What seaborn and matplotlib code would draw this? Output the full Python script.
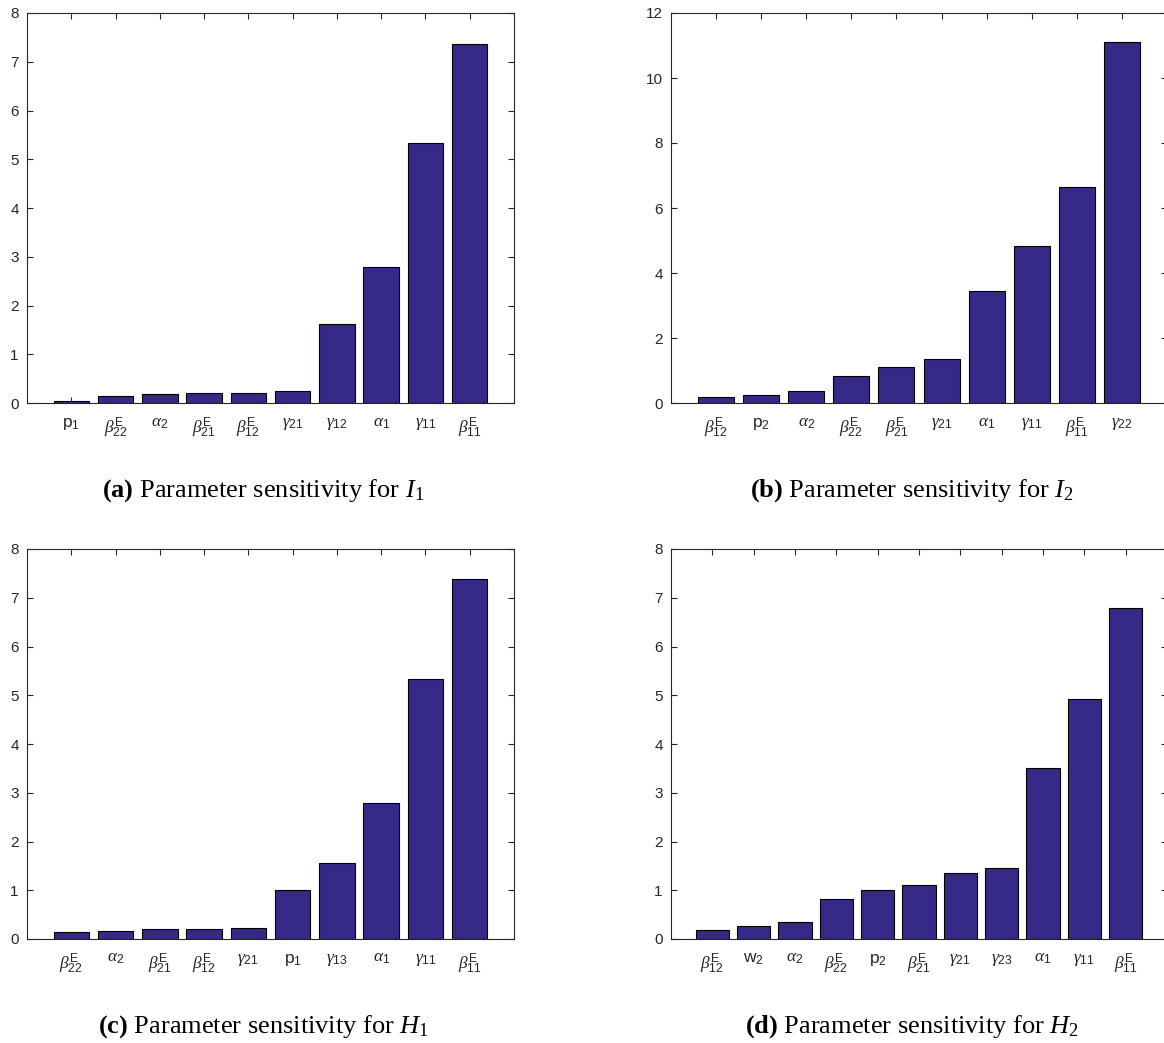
import matplotlib
matplotlib.use("Agg")
import matplotlib.pyplot as plt
import seaborn as sns
import pandas as pd

# Sensitivity indices for each output, sorted ascending
labels_I1 = [r"$\mathrm{p}_{1}$", r"$\beta^{\mathrm{E}}_{22}$", r"$\alpha_{2}$",
             r"$\beta^{\mathrm{E}}_{21}$", r"$\beta^{\mathrm{E}}_{12}$", r"$\gamma_{21}$",
             r"$\gamma_{12}$", r"$\alpha_{1}$", r"$\gamma_{11}$", r"$\beta^{\mathrm{E}}_{11}$"]
values_I1 = [0.034, 0.15, 0.18, 0.205, 0.205, 0.246, 1.627, 2.80, 5.33, 7.37]

labels_I2 = [r"$\beta^{\mathrm{E}}_{12}$", r"$\mathrm{p}_{2}$", r"$\alpha_{2}$",
             r"$\beta^{\mathrm{E}}_{22}$", r"$\beta^{\mathrm{E}}_{21}$", r"$\gamma_{21}$",
             r"$\alpha_{1}$", r"$\gamma_{11}$", r"$\beta^{\mathrm{E}}_{11}$", r"$\gamma_{22}$"]
values_I2 = [0.195, 0.236, 0.37, 0.83, 1.11, 1.35, 3.45, 4.84, 6.64, 11.12]

labels_H1 = [r"$\beta^{\mathrm{E}}_{22}$", r"$\alpha_{2}$", r"$\beta^{\mathrm{E}}_{21}$",
             r"$\beta^{\mathrm{E}}_{12}$", r"$\gamma_{21}$", r"$\mathrm{p}_{1}$",
             r"$\gamma_{13}$", r"$\alpha_{1}$", r"$\gamma_{11}$", r"$\beta^{\mathrm{E}}_{11}$"]
values_H1 = [0.137, 0.164, 0.198, 0.205, 0.232, 1.0, 1.566, 2.797, 5.333, 7.385]

labels_H2 = [r"$\beta^{\mathrm{E}}_{12}$", r"$\mathrm{w}_{2}$", r"$\alpha_{2}$",
             r"$\beta^{\mathrm{E}}_{22}$", r"$\mathrm{p}_{2}$", r"$\beta^{\mathrm{E}}_{21}$",
             r"$\gamma_{21}$", r"$\gamma_{23}$", r"$\alpha_{1}$", r"$\gamma_{11}$",
             r"$\beta^{\mathrm{E}}_{11}$"]
values_H2 = [0.185, 0.26, 0.356, 0.814, 1.0, 1.10, 1.354, 1.456, 3.50, 4.916, 6.783]

captions = [r"$\mathbf{(a)}$ Parameter sensitivity for $I_{\mathsf{1}}$",
            r"$\mathbf{(b)}$ Parameter sensitivity for $I_{\mathsf{2}}$",
            r"$\mathbf{(c)}$ Parameter sensitivity for $H_{\mathsf{1}}$",
            r"$\mathbf{(d)}$ Parameter sensitivity for $H_{\mathsf{2}}$"]

sns.set_theme(style="ticks")
plt.rcParams.update({
    "font.family": ["Liberation Sans", "DejaVu Sans"],
    "mathtext.fontset": "custom",
    "mathtext.rm": "Liberation Sans",
    "mathtext.it": "Liberation Serif:italic",
    "mathtext.sf": "Liberation Serif",
    "mathtext.bf": "Liberation Serif:bold",
    "axes.edgecolor": "#262626",
    "axes.linewidth": 0.8,
    "xtick.color": "#262626",
    "ytick.color": "#262626",
})

W, H = 1164, 1043
fig = plt.figure(figsize=(W / 100, H / 100), dpi=100)

panels = [
    (labels_I1, values_I1, 8, 1, (27, 514, 13, 403)),
    (labels_I2, values_I2, 12, 2, (671, 1167, 13, 403)),
    (labels_H1, values_H1, 8, 1, (27, 514, 549, 939)),
    (labels_H2, values_H2, 8, 1, (671, 1167, 549, 939)),
]

BAR = "#352A87"

for (labels, values, ymax, ystep, (x0, x1, y0, y1)), cap in zip(panels, captions):
    ax = fig.add_axes([x0 / W, 1 - y1 / H, (x1 - x0) / W, (y1 - y0) / H])
    df = pd.DataFrame({"param": labels, "value": values})
    sns.barplot(data=df, x="param", y="value", color=BAR, saturation=1,
                edgecolor="black", linewidth=0.8, width=0.8, ax=ax)
    n = len(labels)
    ax.set_xlim(-1, n)
    ax.set_ylim(0, ymax)
    ax.set_yticks(range(0, ymax + 1, ystep))
    ax.set_xlabel("")
    ax.set_ylabel("")
    ax.tick_params(direction="in", top=True, right=True, length=4.5, width=0.8,
                   labelcolor="#262626")
    ax.tick_params(axis="y", labelsize=11, pad=6)
    ax.tick_params(axis="x", labelsize=12.5, pad=9)
    for s in ax.spines.values():
        s.set_visible(True)
    # subfigure caption below each panel
    cx = ((x0 + x1) / 2 - 7) / W
    cy = 1 - (y1 + 94) / H
    fig.text(cx, cy, cap, ha="center", va="baseline", fontsize=19,
             family="Liberation Serif", color="black")

fig.savefig("out.png", dpi=100)
